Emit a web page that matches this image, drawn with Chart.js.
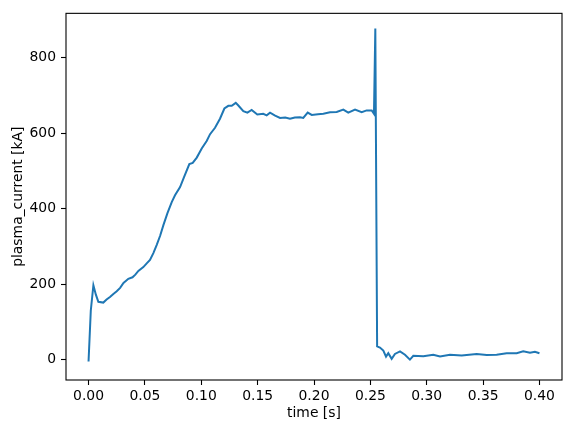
<!DOCTYPE html>
<html>
<head>
<meta charset="utf-8">
<script src="https://cdn.jsdelivr.net/npm/chart.js@4/dist/chart.umd.min.js"></script>
<style>
  html, body { margin: 0; padding: 0; background: #fff; }
  #wrap { width: 571px; height: 432px; }
</style>
</head>
<body>
<div id="wrap"><canvas id="plasmaChart" width="571" height="432"></canvas></div>
<script>
// 時刻 [s] と プラズマ電流 [kA]
const time = [
    0.000, 0.002, 0.0043, 0.0065, 0.0087, 0.0131, 0.016, 0.019, 0.022, 0.025,
    0.028, 0.031, 0.0353, 0.039, 0.0415, 0.0442, 0.0486, 0.0516, 0.0545, 0.0575,
    0.0605, 0.0635, 0.0664, 0.070, 0.0738, 0.0767, 0.0812, 0.0847, 0.0894, 0.0924,
    0.096, 0.1004, 0.1048, 0.1078, 0.1122, 0.1166, 0.1205, 0.124, 0.127, 0.1306,
    0.1329, 0.1373, 0.1409, 0.1447, 0.1497, 0.155, 0.158, 0.161, 0.1655, 0.1699,
    0.1745, 0.1787, 0.183, 0.1876, 0.1905, 0.1944, 0.198, 0.2035, 0.2083, 0.2142,
    0.2201, 0.226, 0.2304, 0.2364, 0.2423, 0.2467, 0.2512, 0.2532, 0.2544, 0.2560,
    0.2585, 0.2615, 0.2639, 0.2659, 0.2689, 0.2718, 0.2763, 0.2807, 0.2851, 0.2881,
    0.297, 0.3058, 0.3118, 0.3206, 0.331, 0.3443, 0.3532, 0.362, 0.3709, 0.3798,
    0.3856, 0.3916, 0.396, 0.400,
];
const current = [
    -5, 130, 197, 172, 153, 151, 159, 166, 174, 181,
    190, 203, 214, 218, 225, 235, 245, 255, 264, 282,
    304, 328, 356, 388, 417, 435, 457, 483, 518, 521,
    535, 559, 579, 597, 614, 638, 665, 672, 672, 680,
    673, 658, 654, 661, 649, 651, 647, 654, 646, 640,
    641, 638, 641, 642, 640, 654, 648, 650, 651, 655,
    656, 662, 654, 662, 655, 660, 660, 651, 877, 35,
    32, 24, 8, 17, 2, 15, 22, 13, 0, 10,
    9, 13, 8, 13, 11, 15, 12, 13, 17, 17,
    22, 18, 21, 17,
];

// 目盛り
const xTicks = [0.00, 0.05, 0.10, 0.15, 0.20, 0.25, 0.30, 0.35, 0.40];
const yTicks = [0, 200, 400, 600, 800];

const tickFont = { family: "DejaVu Sans", size: 13.9 };

// 軸の枠（上下左右）を描く
const frame = {
    id: "frame",
    afterDraw(chart) {
        const { ctx, chartArea: a } = chart;
        ctx.save();
        ctx.strokeStyle = "#000";
        ctx.lineWidth = 1.1;
        ctx.strokeRect(a.left, a.top, a.right - a.left, a.bottom - a.top);
        ctx.restore();
    },
};

Chart.defaults.color = "#000";

new Chart(document.getElementById("plasmaChart"), {
    type: "line",
    data: {
        datasets: [
            {
                data: time.map((t, i) => ({ x: t, y: current[i] })),
                borderColor: "#1f77b4",
                borderWidth: 2,
                pointRadius: 0,
                tension: 0,
                fill: false,
            },
        ],
    },
    options: {
        responsive: false,
        animation: false,
        layout: { padding: { left: 0, right: 9, top: 10, bottom: 0 } },
        plugins: { legend: { display: false }, tooltip: { enabled: false } },
        scales: {
            x: {
                type: "linear",
                min: -0.02,
                max: 0.42,
                afterBuildTicks: (s) => { s.ticks = xTicks.map((v) => ({ value: v })); },
                afterFit: (s) => { s.height = 52; },
                ticks: {
                    font: tickFont,
                    padding: 3,
                    maxRotation: 0,
                    callback: (v) => v.toFixed(2),
                },
                grid: {
                    drawOnChartArea: false,
                    tickLength: 5,
                    tickColor: "#000",
                    tickWidth: 1.1,
                },
                border: { display: false },
                title: {
                    display: true,
                    text: "time [s]",
                    font: tickFont,
                    padding: { top: 0, bottom: 10.7 },
                },
            },
            y: {
                min: -54,
                max: 917,
                afterBuildTicks: (s) => { s.ticks = yTicks.map((v) => ({ value: v })); },
                afterFit: (s) => { s.width = 66; },
                ticks: { font: tickFont, padding: 5 },
                grid: {
                    drawOnChartArea: false,
                    tickLength: 5,
                    tickColor: "#000",
                    tickWidth: 1.1,
                },
                border: { display: false },
                title: {
                    display: true,
                    text: "plasma_current [kA]",
                    font: tickFont,
                    padding: { top: 9.7, bottom: 0 },
                },
            },
        },
    },
    plugins: [frame],
});
</script>
</body>
</html>
